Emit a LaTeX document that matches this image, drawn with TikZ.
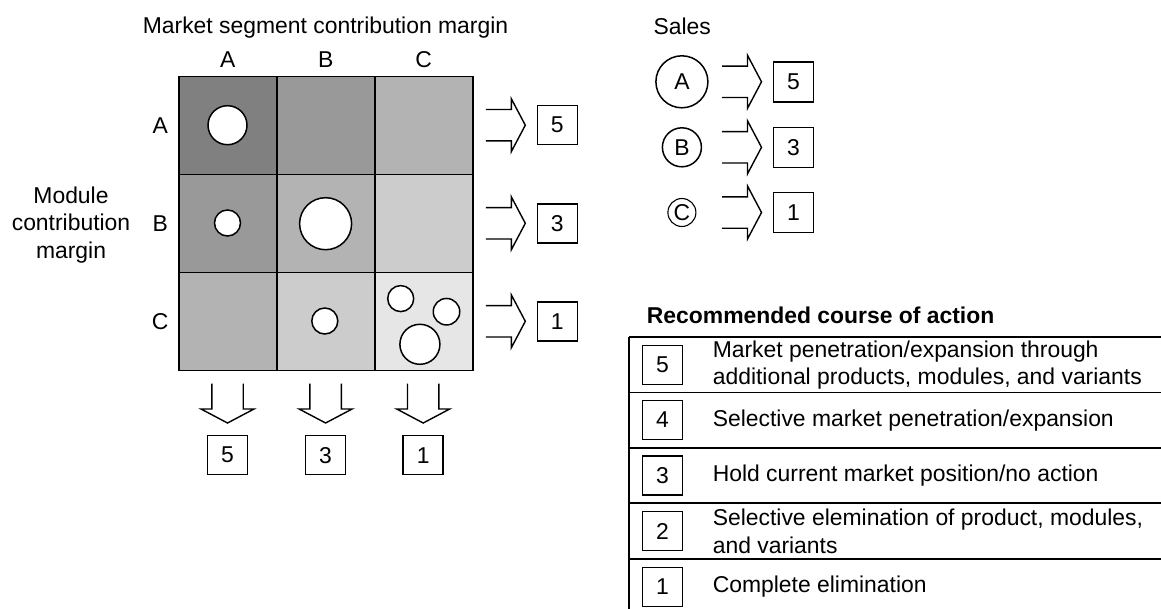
\documentclass[tikz,border=0pt]{standalone}
\usepackage{fontspec}
\setmainfont{Liberation Sans}
\definecolor{gA}{HTML}{808080}
\definecolor{gB}{HTML}{999999}
\definecolor{gC}{HTML}{B3B3B3}
\definecolor{gD}{HTML}{CCCCCC}
\definecolor{gE}{HTML}{E6E6E6}
\tikzset{
  txt/.style={font=\fontsize{22.9}{27.5}\selectfont, inner sep=0pt},
  cellbox/.style={draw, line width=1.8pt, minimum size=98pt, inner sep=0pt, outer sep=0pt},
  bubble/.style={circle, draw, fill=white, line width=1.5pt, inner sep=0pt},
  numbox/.style={txt, draw, line width=1.5pt, minimum width=40pt, minimum height=39pt},
  salescirc/.style={txt, circle, draw, line width=1.5pt, inner sep=0pt},
  tabline/.style={line width=1.8pt},
  fatarrow/.pic={\draw[line width=1.4pt, line join=miter]
     (-39.5,-15.7) -- (-14,-15.7) -- (-14,-26.5) -- (0,0) -- (-14,26.5) -- (-14,15.7) -- (-39.5,15.7);}
}
\begin{document}
\begin{tikzpicture}[x=1pt,y=-1pt]
\useasboundingbox (0,0) rectangle (1161,608);
% titles
\node[txt, anchor=base] (title) at (325.5,33) {Market segment contribution margin};
\node[txt] (colA) at (227.7,60) {A};
\node[txt] (colB) at (325.7,60) {B};
\node[txt] (colC) at (423.7,60) {C};
\node[txt] (rowA) at (160.2,125.4) {A};
\node[txt] (rowB) at (160.2,223.4) {B};
\node[txt] (rowC) at (160.2,321.4) {C};
\node[txt, align=center] (ylab) at (71,225) {Module\\contribution\\margin};
% grid cells
\node[cellbox, fill=gA] (cAA) at (227.7,125.4) {};
\node[cellbox, fill=gB] (cAB) at (325.7,125.4) {};
\node[cellbox, fill=gC] (cAC) at (423.7,125.4) {};
\node[cellbox, fill=gB] (cBA) at (227.7,223.4) {};
\node[cellbox, fill=gC] (cBB) at (325.7,223.4) {};
\node[cellbox, fill=gD] (cBC) at (423.7,223.4) {};
\node[cellbox, fill=gC] (cCA) at (227.7,321.4) {};
\node[cellbox, fill=gD] (cCB) at (325.7,321.4) {};
\node[cellbox, fill=gE] (cCC) at (423.7,321.4) {};
% bubbles
\node[bubble, minimum size=39pt] (b1) at (227.5,125.2) {};
\node[bubble, minimum size=26pt] (b2) at (227.5,223) {};
\node[bubble, minimum size=52pt] (b3) at (325.6,223.7) {};
\node[bubble, minimum size=26pt] (b4) at (324.8,321) {};
\node[bubble, minimum size=26pt] (b5) at (400.7,298.6) {};
\node[bubble, minimum size=26.5pt] (b6) at (446.5,311.7) {};
\node[bubble, minimum size=40pt] (b7) at (419.9,344.3) {};
% right arrows and boxes
\pic at (525.3,125.2) {fatarrow};
\pic at (525.3,223.3) {fatarrow};
\pic at (525.3,321.3) {fatarrow};
\node[numbox] (r5) at (557.3,125.2) {5};
\node[numbox] (r3) at (557.3,223.3) {3};
\node[numbox] (r1) at (557.3,321.3) {1};
% down arrows and boxes
\pic[rotate=-90] at (227.5,423) {fatarrow};
\pic[rotate=-90] at (325.6,423) {fatarrow};
\pic[rotate=-90] at (423.2,423) {fatarrow};
\node[numbox] (d5) at (227.5,455.2) {5};
\node[numbox] (d3) at (325.6,455.2) {3};
\node[numbox] (d1) at (423.2,455.2) {1};
% sales legend
\node[txt, anchor=base west] (sales) at (653.4,34) {Sales};
\node[salescirc, minimum size=52pt] (sA) at (681.9,81.8) {A};
\node[salescirc, minimum size=39pt] (sB) at (681.9,147.3) {B};
\node[salescirc, minimum size=28pt, line width=1.1pt] (sC) at (681.9,212.5) {C};
\pic at (761.5,81.8) {fatarrow};
\pic at (761.5,147.3) {fatarrow};
\pic at (761.5,212.5) {fatarrow};
\node[numbox, minimum height=40pt] (s5) at (793.4,81.8) {5};
\node[numbox, minimum height=40pt] (s3) at (793.4,147.3) {3};
\node[numbox, minimum height=40pt] (s1) at (793.4,212.5) {1};
% recommended course of action
\node[txt, anchor=base west, font=\fontsize{22.9}{27.5}\selectfont\bfseries] (rec) at (646.7,323.5) {Recommended course of action};
\coordinate (tl) at (629.3,337.3);
\coordinate (tr) at (1162,337.3);
\coordinate (bl) at (629.3,609);
\draw[tabline] (tl) -- (tr);
\draw[tabline] (629.3,392.4) -- (1162,392.4);
\draw[tabline] (629.3,447.9) -- (1162,447.9);
\draw[tabline] (629.3,503.3) -- (1162,503.3);
\draw[tabline] (629.3,559.1) -- (1162,559.1);
\draw[tabline] (tl) -- (bl);
\node[numbox] (t5) at (662.4,364.85) {5};
\node[numbox] (t4) at (662.4,420.1) {4};
\node[numbox] (t3) at (662.4,475.6) {3};
\node[numbox] (t2) at (662.4,531.2) {2};
\node[numbox] (t1) at (662.4,586.8) {1};
\node[txt, anchor=west, align=left] (x5) at (712.6,364.85) {Market penetration/expansion through\\additional products, modules, and variants};
\node[txt, anchor=west, align=left] (x4) at (712.6,420.1) {Selective market penetration/expansion};
\node[txt, anchor=west, align=left] (x3) at (712.6,475.6) {Hold current market position/no action};
\node[txt, anchor=west, align=left] (x2) at (712.6,531.2) {Selective elemination of product, modules,\\and variants};
\node[txt, anchor=west, align=left] (x1) at (712.6,586.8) {Complete elimination};
\end{tikzpicture}
\end{document}
